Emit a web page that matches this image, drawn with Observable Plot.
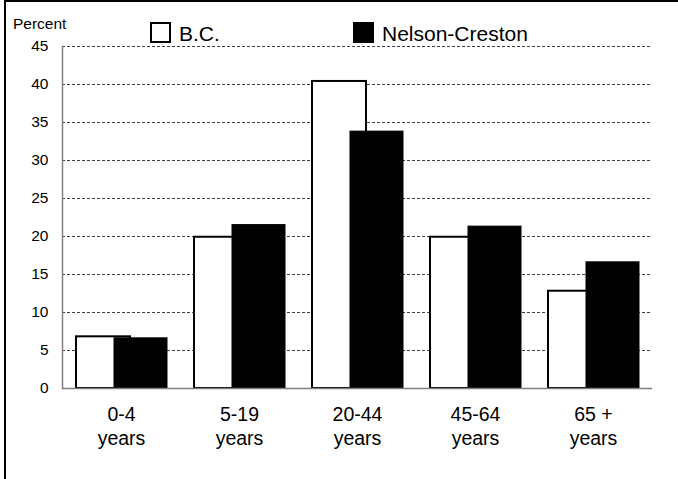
<!DOCTYPE html>
<html>
<head>
<meta charset="utf-8">
<script src="https://cdn.jsdelivr.net/npm/d3@7"></script>
<script src="https://cdn.jsdelivr.net/npm/@observablehq/plot@0.6"></script>
<style>
  html, body { margin: 0; padding: 0; background: #fff; }
  #wrap { position: relative; width: 678px; height: 479px; overflow: hidden; font-family: "Liberation Sans", Arial, sans-serif; }
  #frame { position: absolute; left: 4px; top: 0px; width: 700px; height: 500px; border-top: 2px solid #000; border-left: 2px solid #000; box-sizing: border-box; pointer-events: none; }
  .lab { position: absolute; color: #000; white-space: nowrap; }
  .swatch { position: absolute; box-sizing: border-box; border: 2px solid #000; }
</style>
</head>
<body>
<div id="wrap">
  <div id="chart"></div>
  <div id="frame"></div>
</div>
<script>
const categories = ["0-4", "5-19", "20-44", "45-64", "65 +"];
const bcValues = [6.8, 19.9, 40.4, 19.9, 12.8];
const nelsonValues = [6.6, 21.5, 33.8, 21.3, 16.6];
const yTicks = [0, 5, 10, 15, 20, 25, 30, 35, 40, 45];
const gridTicks = [5, 10, 15, 20, 25, 30, 35, 40, 45];
const seriesNames = ["B.C.", "Nelson-Creston"];
const yLabel = "Percent";
const unitWord = "years";

const data = categories.map((c, i) => ({cat: c, bc: bcValues[i], nc: nelsonValues[i]}));

const chart = Plot.plot({
  width: 678,
  height: 479,
  marginLeft: 62,
  marginRight: 26,
  marginTop: 46,
  marginBottom: 91,
  style: {fontFamily: "'Liberation Sans', Arial, sans-serif", background: "white", color: "black"},
  x: {domain: categories, padding: 0, label: null},
  y: {domain: [0, 45], label: null},
  marks: [
    Plot.ruleY(gridTicks, {stroke: "#000", strokeWidth: 1, strokeDasharray: "3,2", strokeOpacity: 0.75}),
    Plot.barY(data, {x: "cat", y: "bc", fill: "white", stroke: "black", strokeWidth: 2, insetLeft: 14, insetRight: 50}),
    Plot.barY(data, {x: "cat", y: "nc", fill: "black", stroke: "black", strokeWidth: 1, insetLeft: 52, insetRight: 13}),
    Plot.ruleY([0], {stroke: "#808080", strokeWidth: 1.5}),
    Plot.frame({anchor: "left", stroke: "#808080", strokeWidth: 1.5}),
    Plot.axisY({ticks: yTicks, tickSize: 0, tickPadding: 14, fontSize: 15.5, label: null}),
    Plot.axisX({tickSize: 0, tickPadding: 16, fontSize: 19.5, lineHeight: 1.2, tickFormat: d => d + "\n" + unitWord, label: null})
  ]
});
document.getElementById("chart").appendChild(chart);

const wrap = document.getElementById("wrap");
function addLabel(text, left, top, size) {
  const el = document.createElement("div");
  el.className = "lab";
  el.textContent = text;
  el.style.left = left + "px";
  el.style.top = top + "px";
  el.style.fontSize = size + "px";
  el.style.lineHeight = "1";
  wrap.appendChild(el);
}
function addSwatch(left, top, fill) {
  const el = document.createElement("div");
  el.className = "swatch";
  el.style.left = left + "px";
  el.style.top = top + "px";
  el.style.width = "21px";
  el.style.height = "21px";
  el.style.background = fill;
  wrap.appendChild(el);
}
addLabel(yLabel, 13, 16, 15.5);
addSwatch(150, 22, "white");
addLabel(seriesNames[0], 179, 23, 21);
addSwatch(353, 22, "black");
addLabel(seriesNames[1], 382, 23, 21);
</script>
</body>
</html>
